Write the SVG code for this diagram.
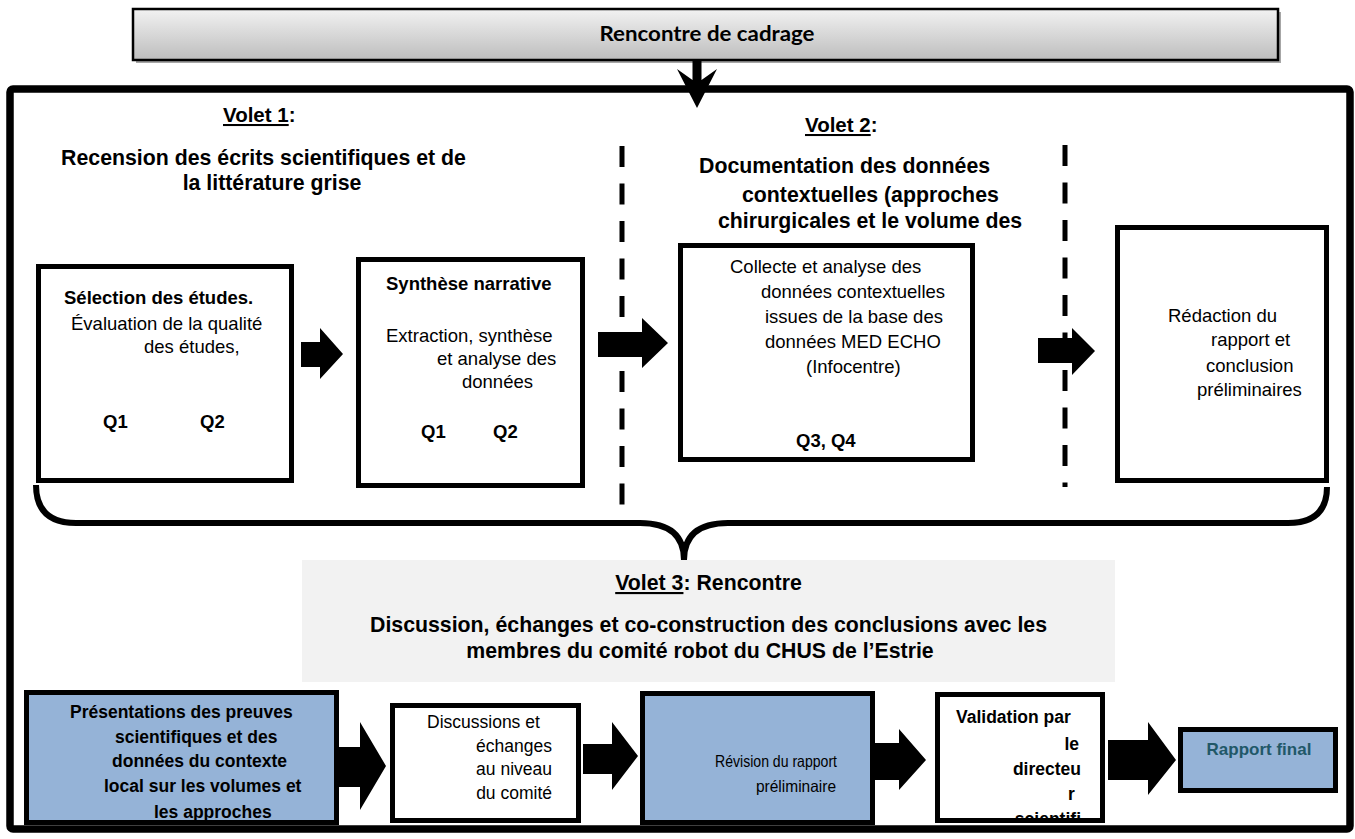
<svg xmlns="http://www.w3.org/2000/svg" width="1355" height="839" viewBox="0 0 1355 839">
<defs>
<linearGradient id="bannerGrad" x1="0" y1="0" x2="0" y2="1">
<stop offset="0" stop-color="#f2f2f2"/>
<stop offset="1" stop-color="#bdbdbd"/>
</linearGradient>
<clipPath id="clipA"><rect x="26" y="692" width="311" height="130"/></clipPath>
<clipPath id="clipD"><rect x="937" y="694" width="166" height="127"/></clipPath>
</defs>
<style>
text{font-family:"Liberation Sans",Arial,sans-serif;fill:#000}
.b{font-weight:bold}
.h{font-size:21.3px;font-weight:bold}
.v{font-size:20.5px;font-weight:bold}
.t{font-size:18.5px}
.s{font-size:17.5px}
.box{fill:#fff;stroke:#000;stroke-width:5}
.blue{fill:#95b3d7;stroke:#000;stroke-width:5}
.arrow{fill:#000}
.u{text-decoration:underline}
</style>

<rect x="136" y="12" width="1145" height="51" fill="#a6a6a6"/>
<g id="banner">
<rect x="133" y="9" width="1145" height="51" fill="url(#bannerGrad)" stroke="#000" stroke-width="2.5"/>
<text x="707" y="41" text-anchor="middle" textLength="215" lengthAdjust="spacingAndGlyphs" style="font-family:Lato,'Open Sans',sans-serif;font-size:20px;font-weight:bold">Rencontre de cadrage</text>
</g>

<g id="frame">
<rect x="10" y="89" width="1340" height="740" rx="3" fill="none" stroke="#000" stroke-width="7.5"/>
</g>

<g id="volet1-title">
<text class="v" x="223" y="122"><tspan class="u">Volet 1</tspan>:</text>
<text class="h" x="263.5" y="165" text-anchor="middle">Recension des écrits scientifiques et de</text>
<text class="h" x="272" y="190" text-anchor="middle">la littérature grise</text>
</g>

<g id="volet2-title">
<text class="v" x="805" y="132"><tspan class="u">Volet 2</tspan>:</text>
<text class="h" x="699" y="173">Documentation des données</text>
<text class="h" x="742" y="202">contextuelles (approches</text>
<text class="h" x="718" y="228">chirurgicales et le volume des</text>
</g>

<g id="connectors">
<line x1="622" y1="146" x2="622" y2="524" stroke="#000" stroke-width="5" stroke-dasharray="21 16.5"/>
<line x1="1065" y1="145" x2="1065" y2="487" stroke="#000" stroke-width="5" stroke-dasharray="21 16.5"/>
<polygon class="arrow" points="692.5,60 701.5,60 701.5,80 717,69 697,108 677,69 692.5,80"/>
<polygon class="arrow" points="301,342 320,342 320,328 343,354 320,379 320,367 301,367"/>
<polygon class="arrow" points="598,332 642,332 642,318 668,343 642,368 642,357 598,357"/>
<polygon class="arrow" points="1038,338 1072,338 1072,328 1095,351 1072,375 1072,363 1038,363"/>
<path d="M36,485 Q36,523 76,523 L640,523 Q684,523 684,560 Q684,523 728,523 L1288,523 Q1327,523 1327,487" fill="none" stroke="#000" stroke-width="6"/>
<polygon class="arrow" points="339,747 360,747 360,722 386,766 360,810 360,787 339,787"/>
<polygon class="arrow" points="583,744 612,744 612,722 638,756 612,790 612,774 583,774"/>
<polygon class="arrow" points="875,743 899,743 899,729 926,760 899,790 899,780 875,780"/>
<polygon class="arrow" points="1108,740 1148,740 1148,722 1176,760 1148,795 1148,780 1108,780"/>
</g>

<g id="box1">
<rect class="box" x="38.5" y="266.5" width="253" height="214"/>
<text class="t b" x="64" y="304">Sélection des études.</text>
<text class="t" x="71" y="330">Évaluation de la qualité</text>
<text class="t" x="144" y="353">des études,</text>
<text class="t b" x="103" y="428">Q1</text>
<text class="t b" x="200" y="428">Q2</text>
</g>

<g id="box2">
<rect class="box" x="358.5" y="259.5" width="224" height="226"/>
<text class="t b" x="386" y="290">Synthèse narrative</text>
<text class="t" x="386" y="342">Extraction, synthèse</text>
<text class="t" x="437" y="365">et analyse des</text>
<text class="t" x="462" y="388">données</text>
<text class="t b" x="421" y="438">Q1</text>
<text class="t b" x="493" y="438">Q2</text>
</g>

<g id="box3">
<rect class="box" x="680.5" y="245.5" width="292" height="214"/>
<text class="t" x="730" y="273">Collecte et analyse des</text>
<text class="t" x="761" y="298">données contextuelles</text>
<text class="t" x="765" y="323">issues de la base des</text>
<text class="t" x="765" y="348">données MED ECHO</text>
<text class="t" x="806" y="373">(Infocentre)</text>
<text class="t b" x="796" y="447">Q3, Q4</text>
</g>

<g id="box4">
<rect class="box" x="1117.5" y="227.5" width="209" height="253"/>
<text class="t" x="1168" y="322">Rédaction du</text>
<text class="t" x="1211" y="346">rapport et</text>
<text class="t" x="1206" y="372">conclusion</text>
<text class="t" x="1197" y="396">préliminaires</text>
</g>

<g id="volet3">
<rect x="302" y="560" width="813" height="122" fill="#f2f2f2"/>
<text class="h" x="708.5" y="590" text-anchor="middle"><tspan class="u">Volet 3</tspan>: Rencontre</text>
<text class="h" x="708.5" y="632" text-anchor="middle">Discussion, échanges et co-construction des conclusions avec les</text>
<text class="h" x="700" y="658" text-anchor="middle">membres du comité robot du CHUS de l’Estrie</text>
</g>

<g id="boxA">
<rect class="blue" x="26.5" y="692.5" width="310" height="130"/>
<g clip-path="url(#clipA)">
<text class="s b" x="70" y="718">Présentations des preuves</text>
<text class="s b" x="115" y="743">scientifiques et des</text>
<text class="s b" x="112" y="767">données du contexte</text>
<text class="s b" x="104" y="792">local sur les volumes et</text>
<text class="s b" x="154" y="818">les approches</text>
</g>
</g>

<g id="boxB">
<rect class="box" x="392.5" y="705.5" width="186" height="115"/>
<text class="s" x="427" y="728">Discussions et</text>
<text class="s" x="552" y="752" text-anchor="end">échanges</text>
<text class="s" x="552" y="775" text-anchor="end">au niveau</text>
<text class="s" x="552" y="799" text-anchor="end">du comité</text>
</g>

<g id="boxC">
<rect class="blue" x="642.5" y="693.5" width="230" height="129"/>
<text x="715" y="767" textLength="122" lengthAdjust="spacingAndGlyphs" style="font-size:16.5px">Révision du rapport</text>
<text x="756" y="792" textLength="80" lengthAdjust="spacingAndGlyphs" style="font-size:16.5px">préliminaire</text>
</g>

<g id="boxD">
<rect class="box" x="937.5" y="694.5" width="165" height="126"/>
<g clip-path="url(#clipD)">
<text class="s b" x="956" y="723">Validation par</text>
<text class="s b" x="1079" y="750" text-anchor="end">le</text>
<text class="s b" x="1081" y="775" text-anchor="end">directeu</text>
<text class="s b" x="1068" y="800">r</text>
<text class="s b" x="1081" y="825" text-anchor="end">scientifi</text>
</g>
</g>

<g id="boxE">
<rect class="blue" x="1180.5" y="729.5" width="155" height="61"/>
<text class="b" x="1259" y="755" text-anchor="middle" style="font-size:17px;fill:#215868">Rapport final</text>
</g>
</svg>
